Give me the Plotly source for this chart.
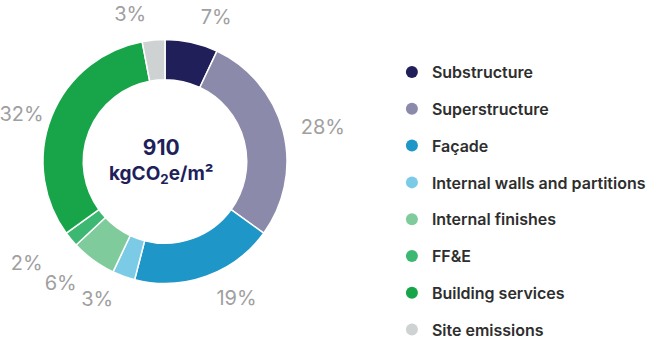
import plotly.graph_objects as go

categories = ["Substructure", "Superstructure", "Façade", "Internal walls and partitions",
              "Internal finishes", "FF&E", "Building services", "Site emissions"]
values = [7, 28, 19, 3, 6, 2, 32, 3]
colors = ["#211f5a", "#8b8aab", "#1e96c8", "#7ccbe6", "#80cb9b", "#3db872", "#18a549", "#cfd2d3"]
total_value = "910"
unit_text = "kgCO<sub>2</sub>e/m²"

W, H = 651, 340
CX, CY, R = 165, 161.5, 122   # donut centre and outer radius in pixels


def domain(radius):
    cx, cy = CX / W, 1 - CY / H
    return dict(x=[cx - radius / W, cx + radius / W], y=[cy - radius / H, cy + radius / H])


# (slice indices, extra label distance in px): labels are drawn by transparent overlay pies
label_groups = [
    ([1, 2], 12),
    ([0, 7], 14),
    ([6], 2),
    ([5], 29),
    ([4], 18),
    ([3], 13),
]

fig = go.Figure()
fig.add_trace(go.Pie(
    labels=categories, values=values, sort=False, direction="clockwise", rotation=0,
    hole=0.67, marker=dict(colors=colors, line=dict(color="white", width=1.5)),
    textposition="none", showlegend=False, domain=domain(R),
    hoverinfo="label+percent",
))
for grp, extra in label_groups:
    Rl = R + extra
    fig.add_trace(go.Pie(
        labels=categories, values=values, sort=False, direction="clockwise", rotation=0,
        hole=0.67,
        marker=dict(colors=["rgba(0,0,0,0)"] * len(values), line=dict(color="rgba(0,0,0,0)", width=0)),
        texttemplate="%{value}%",
        textposition=["outside" if i in grp else "none" for i in range(len(values))],
        textfont=dict(family="Inter", size=20, color="#a0a0a0"),
        showlegend=False, domain=domain(Rl), hoverinfo="skip",
    ))
for c, col in zip(categories, colors):
    fig.add_trace(go.Scatter(x=[None], y=[None], mode="markers", name=c,
                             marker=dict(symbol="circle", size=14, color=col),
                             legendgroup=c, showlegend=True))

fig.add_annotation(x=(CX - 4) / W, y=1 - (CY - 1) / H, xref="paper", yref="paper",
                   xanchor="center", yanchor="middle",
                   text="<b><span style='font-size:21px'>" + total_value + "</span></b><br><b>" + unit_text + "</b>",
                   showarrow=False, font=dict(family="Inter", size=19, color="#211f5a"))

fig.update_layout(
    width=W, height=H, margin=dict(l=0, r=0, t=0, b=0, autoexpand=False),
    paper_bgcolor="white", plot_bgcolor="white",
    xaxis=dict(visible=False), yaxis=dict(visible=False),
    legend=dict(x=0.602, y=0.838, xanchor="left", yanchor="top", tracegroupgap=13,
                font=dict(family="Inter", size=16, color="#2e2e2e", weight=600),
                itemsizing="constant"),
)
fig.write_html("out.html")
